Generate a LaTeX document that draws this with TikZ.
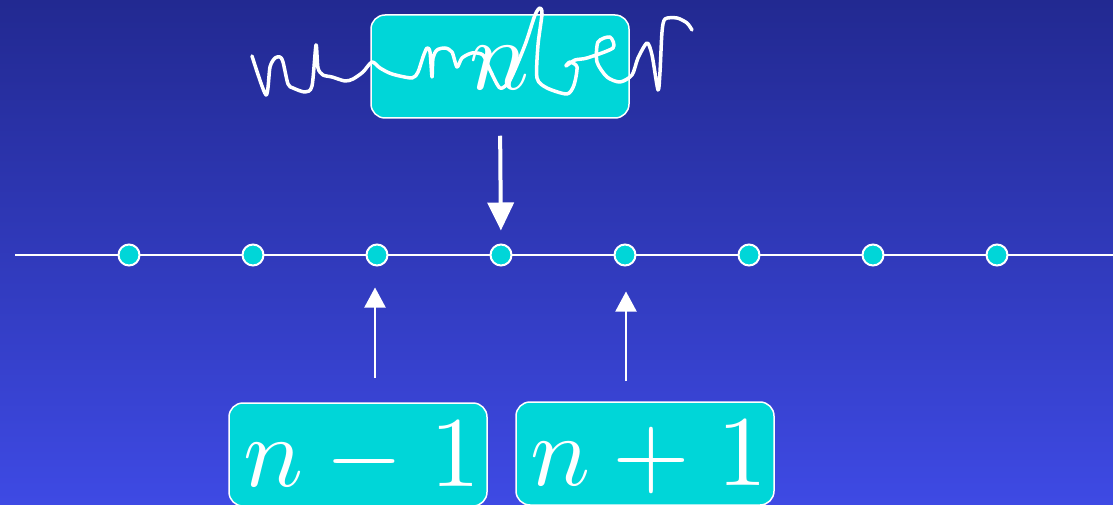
\documentclass[tikz,border=0pt]{standalone}
\usepackage{graphicx}
\usetikzlibrary{arrows.meta}
\definecolor{bgtop}{RGB}{34,41,145}
\definecolor{bgbot}{RGB}{62,74,228}
\definecolor{tq}{RGB}{0,214,216}
\newcommand{\bigmath}[1]{\scalebox{10}{$#1$}}
\tikzset{
  valbox/.style={draw=white, line width=1.5pt, fill=tq, rounded corners=14pt,
    minimum width=258pt, minimum height=103pt, inner sep=0pt, text=white, text depth=0pt},
  dot/.style={circle, draw=white, line width=2pt, fill=tq, minimum size=21pt, inner sep=0pt},
  bigarrow/.style={draw=white, line width=4pt, -{Triangle[length=28pt,width=26pt]}},
  smallarrow/.style={draw=white, line width=2pt, -{Triangle[length=20pt,width=21pt]}},
  scribble/.style={draw=white, line width=3.5pt, line cap=round, line join=round}
}
\begin{document}
\begin{tikzpicture}[x=1pt,y=-1pt]
\shade[top color=bgtop, bottom color=bgbot] (0,0) rectangle (1113,505);
\useasboundingbox (0,0) rectangle (1113,505);
% number line
\coordinate (L) at (15,255);
\coordinate (R) at (1113,255);
\draw[white, line width=2pt] (L) -- (R);
\foreach \i/\x in {1/129,2/253,3/377,4/501,5/625,6/749,7/873,8/997}
  \node[dot] (d\i) at (\x,255) {};
% boxes
\node[valbox] (top) at (500,66.5) {\raisebox{-3pt}{\bigmath{n}}};
\node[valbox] (lo) at (358,454.5) {\hspace{8pt}\bigmath{n\mkern4mu{-}\mkern5mu1}};
\node[valbox] (hi) at (645,453.5) {\hspace{8pt}\bigmath{n\mkern4mu{+}\mkern5mu1}};
% arrows
\draw[bigarrow, shorten <=17pt, shorten >=13pt] (top.south) -- (d4.north);
\coordinate (a1) at (375,378);
\coordinate (a2) at (626,381);
\draw[smallarrow, shorten >=21pt] (a1) -- (a1 |- d3.south);
\draw[smallarrow, shorten >=25pt] (a2) -- (a2 |- d5.south);
% handwriting "number"
\draw[scribble] plot[smooth, tension=0.45] coordinates {
 (252,56) (266,95) (270,67) (275,58) (280,57) (283,62) (288,84) (293,88) (305,92) (312,86)
 (316,45) (318,68) (323,75) (332,77) (345,81) (353,79) (363,72) (372,62) (380,68) (392,74)
 (412,78) (418,72) (423,57) (427,48) (430,52) (432,77) (433,58) (437,50) (445,48) (452,52)
 (457,67) (462,58) (472,53) (483,55) (490,70) (500,88) (510,80) (525,45) (535,15) (540,8)
 (542,14) (538,45) (537,78) (547,88) (567,94) (574,85) (577,67) (570,62) (566,66)
 (575,60) (587,58) (613,48) (610,37) (598,42) (597,62) (607,77) (620,82) (632,75)
 (638,58) (647,43) (652,55) (658,90) (660,72) (662,32) (665,19) (677,18) (687,23) (692,30)};
\end{tikzpicture}
\end{document}
